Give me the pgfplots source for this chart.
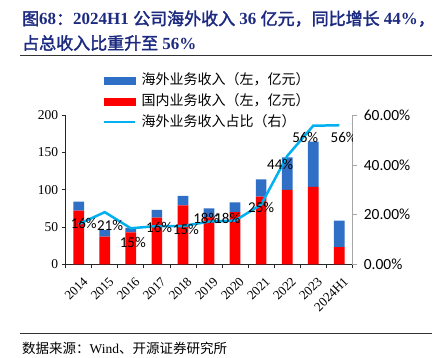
\documentclass[border=0pt]{standalone}
\usepackage{fontspec}
\setmainfont{Liberation Serif}
\newfontfamily\cjk{Noto Sans CJK SC}[AutoFakeBold=2]
\newfontfamily\calb{Carlito}
\usepackage{pgfplots}
\usepackage{pgfplotstable}
\pgfplotsset{compat=1.18}
\definecolor{ovs}{HTML}{2F6FC6}
\definecolor{dom}{HTML}{FF0000}
\definecolor{shr}{HTML}{00B0F0}
\definecolor{ttl}{HTML}{1C2A80}

\pgfplotstableread{
x dom ovs shr
0 72 12 16.2
1 37 9 21
2 43 6 14.5
3 62.5 10.5 15.4
4 79 13 15.4
5 63 12 17.2
6 70 13 17.6
7 91 23 24
8 100 43.5 43.6
9 104 60.5 55.8
10 23 35.5 56
}\data

\begin{document}
\begin{tikzpicture}
\useasboundingbox (0pt,0pt) rectangle (442pt,358pt);
\node[anchor=west, inner sep=0pt, font=\fontsize{17}{20}\selectfont\bfseries, text=ttl] at (22pt,339.3pt) {{\cjk 图}68{\cjk ：}2024H1 {\cjk 公司海外收入} 36 {\cjk 亿元，同比增长} 44\%{\cjk ，}};
\node[anchor=west, inner sep=0pt, font=\fontsize{17}{20}\selectfont\bfseries, text=ttl] at (22pt,315pt) {{\cjk 占总收入比重升至} 56\%};
\draw[line width=0.8pt, black!80] (20pt,302.3pt) -- (432pt,302.3pt);
\draw[line width=0.8pt, black!80] (20pt,24.7pt) -- (432pt,24.7pt);
\node[anchor=west, inner sep=0pt, font=\fontsize{13.5}{15}\selectfont] at (22pt,9.7pt) {{\cjk 数据来源：}Wind{\cjk 、开源证券研究所}};

\begin{axis}[
 at={(65.7pt,93.7pt)}, anchor=south west, scale only axis,
 width=286.6pt, height=149pt,
 xmin=-0.5, xmax=10.5, ymin=0, ymax=200,
 axis x line*=bottom, axis y line*=left,
 axis line style={black!85, line width=0.8pt, -},
 ytick={0,50,100,150,200},
 xtick={0,...,10},
 xticklabels={2014,2015,2016,2017,2018,2019,2020,2021,2022,2023,2024H1},
 major x tick style={draw=none},
 minor xtick={-0.5,0.5,...,10.5},
 tick align=outside, major tick length=4pt, minor tick length=4pt,
 tick style={black!85, line width=0.8pt},
 x tick label style={rotate=45, anchor=north east, font=\fontsize{13}{13}\selectfont, inner sep=1pt, xshift=-2pt, yshift=-7pt},
 y tick label style={font=\fontsize{13.5}{14}\selectfont},
 /pgf/number format/assume math mode=true,
 ybar stacked, bar width=10.7pt,
 legend style={at={(0.130,1.2805)}, anchor=north west, draw=none, fill=none, inner sep=0pt,
   font=\cjk\fontsize{14}{14}\selectfont, row sep=8pt,
   nodes={inner sep=0pt, text height=10.5pt, text depth=2.5pt},
   /tikz/every odd column/.append style={column sep=5pt}},
 legend cell align=left,
]
\addplot[fill=dom, draw=none, forget plot] table[x=x,y=dom]{\data};
\addplot[fill=ovs, draw=none, forget plot] table[x=x,y=ovs]{\data};
\addlegendimage{legend image code/.code={\fill[ovs] (0pt,-3.5pt) rectangle (31pt,3.5pt);}}
\addlegendentry{海外业务收入（左，亿元）}
\addlegendimage{legend image code/.code={\fill[dom] (0pt,-3.5pt) rectangle (31pt,3.5pt);}}
\addlegendentry{国内业务收入（左，亿元）}
\addlegendimage{legend image code/.code={\draw[shr, line width=2.5pt] (0pt,0pt) -- (31pt,0pt);}}
\addlegendentry{海外业务收入占比（右）}
\end{axis}

\begin{axis}[
 at={(65.7pt,93.7pt)}, anchor=south west, scale only axis,
 width=286.6pt, height=149pt,
 xmin=-0.5, xmax=10.5, ymin=0, ymax=60,
 axis x line=none, axis y line*=right,
 axis line style={black!35, line width=0.8pt, -},
 ytick={0,20,40,60},
 yticklabels={0.00\%,20.00\%,40.00\%,60.00\%},
 tick align=outside, major tick length=5pt,
 tick style={black!35, line width=0.8pt},
 y tick label style={font=\calb\fontsize{15.5}{16}\selectfont, xshift=3pt},
]
\addplot[shr, line width=2.5pt] table[x=x,y=shr]{\data};
\begin{scope}[every node/.style={font=\calb\fontsize{15}{15}\selectfont, inner sep=0pt}]
\node[xshift=5pt, yshift=0.7pt] at (axis cs:0,16.2) {16\%};
\node[xshift=5.3pt, yshift=-13.3pt] at (axis cs:1,21) {21\%};
\node[xshift=2pt, yshift=-14.4pt] at (axis cs:2,14.5) {15\%};
\node[xshift=2.3pt, yshift=-1.7pt] at (axis cs:3,15.4) {16\%};
\node[xshift=3pt, yshift=-3pt] at (axis cs:4,15.4) {15\%};
\node[xshift=-2.7pt, yshift=3.4pt] at (axis cs:5,17.2) {18\%};
\node[xshift=-7.7pt, yshift=1.7pt] at (axis cs:6,17.6) {18\%};
\node[xshift=0pt, yshift=-2.6pt] at (axis cs:7,24) {25\%};
\node[xshift=-7pt, yshift=-8pt] at (axis cs:8,43.6) {44\%};
\node[xshift=-8pt, yshift=-12pt] at (axis cs:9,55.8) {56\%};
\node[xshift=4.4pt, yshift=-12pt] at (axis cs:10,56) {56\%};
\end{scope}
\end{axis}
\end{tikzpicture}
\end{document}
